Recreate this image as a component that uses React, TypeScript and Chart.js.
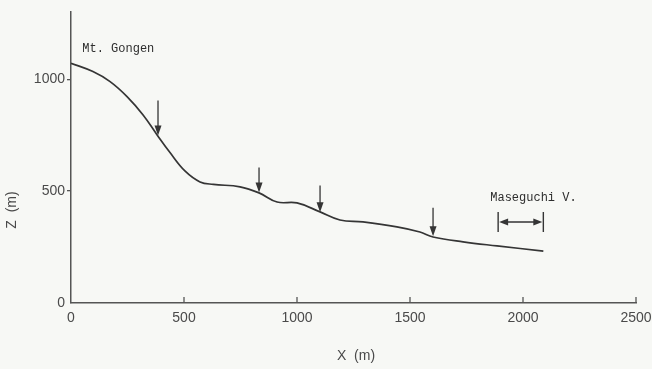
import React, { useEffect, useRef } from 'react';
import { Chart, registerables } from 'chart.js';

Chart.register(...registerables);

// Longitudinal profile (X in m, Z in m)
const profileX = [0, 97, 173, 248, 319, 381, 438, 504, 571, 630, 748, 832, 912, 1000, 1102, 1190, 1292, 1442, 1544, 1602, 1735, 1885, 2090];
const profileZ = [1071, 1034, 989, 922, 840, 751, 672, 590, 541, 530, 519, 492, 451, 447, 407, 371, 362, 340, 317, 295, 273, 255, 232];

// Arrows marking slope breaks (x position, top Z, tip Z)
const arrowX = [385, 832, 1102, 1602];
const arrowTop = [905, 605, 525, 425];
const arrowTip = [748, 494, 405, 298];

// Maseguchi valley range
const valleyRange = [1890, 2090];
const valleyZ = 362;

// Labels
const labelTexts = ['Mt. Gongen', 'Maseguchi V.'];
const labelX = [50, 1855];
const labelZ = [1135, 470];

const xTicks = [0, 500, 1000, 1500, 2000, 2500];
const yTicks = [0, 500, 1000];

const BG = '#f7f8f5';
const INK = '#353535';
const AXIS = '#555555';
const TXT = '#4a4a4a';
const TICK_FONT = { family: "'Liberation Sans', Arial, sans-serif", size: 14 };
const MONO = "12px 'Liberation Mono', 'DejaVu Sans Mono', monospace";

const annotPlugin = {
  id: 'annot',
  afterDatasetsDraw(chart: any) {
    const { ctx, scales } = chart;
    const xs = scales.x;
    const ys = scales.y;
    ctx.save();
    // inward x ticks
    ctx.strokeStyle = AXIS;
    ctx.lineWidth = 1.3;
    xTicks.forEach((v) => {
      if (v === 0) return;
      const px = xs.getPixelForValue(v);
      ctx.beginPath();
      ctx.moveTo(px, ys.bottom);
      ctx.lineTo(px, ys.bottom - 6);
      ctx.stroke();
    });

    // arrows
    ctx.strokeStyle = INK;
    ctx.fillStyle = INK;
    ctx.lineWidth = 1.3;
    arrowX.forEach((x, i) => {
      const px = xs.getPixelForValue(x);
      const top = ys.getPixelForValue(arrowTop[i]);
      const tip = ys.getPixelForValue(arrowTip[i]);
      ctx.beginPath();
      ctx.moveTo(px, top);
      ctx.lineTo(px, tip - 8);
      ctx.stroke();
      ctx.beginPath();
      ctx.moveTo(px, tip);
      ctx.lineTo(px - 3.5, tip - 10);
      ctx.lineTo(px + 3.5, tip - 10);
      ctx.closePath();
      ctx.fill();
    });

    // valley bracket
    const l = xs.getPixelForValue(valleyRange[0]);
    const r = xs.getPixelForValue(valleyRange[1]);
    const cy = ys.getPixelForValue(valleyZ);
    ctx.lineWidth = 1.4;
    ctx.beginPath();
    ctx.moveTo(l, cy - 10);
    ctx.lineTo(l, cy + 10);
    ctx.moveTo(r, cy - 10);
    ctx.lineTo(r, cy + 10);
    ctx.moveTo(l + 6, cy);
    ctx.lineTo(r - 6, cy);
    ctx.stroke();
    ctx.beginPath();
    ctx.moveTo(l + 1, cy);
    ctx.lineTo(l + 10, cy - 3.5);
    ctx.lineTo(l + 10, cy + 3.5);
    ctx.closePath();
    ctx.fill();
    ctx.beginPath();
    ctx.moveTo(r - 1, cy);
    ctx.lineTo(r - 10, cy - 3.5);
    ctx.lineTo(r - 10, cy + 3.5);
    ctx.closePath();
    ctx.fill();

    // text labels
    ctx.font = MONO;
    ctx.fillStyle = '#2e2e2e';
    ctx.textAlign = 'left';
    ctx.textBaseline = 'middle';
    labelTexts.forEach((t, i) => {
      ctx.fillText(t, xs.getPixelForValue(labelX[i]), ys.getPixelForValue(labelZ[i]));
    });

    // axis titles
    ctx.font = `${TICK_FONT.size}px ${TICK_FONT.family}`;
    ctx.fillStyle = TXT;
    ctx.textAlign = 'center';
    ctx.textBaseline = 'middle';
    ctx.fillText('X  (m)', 356, 356);
    ctx.translate(12, 210);
    ctx.rotate(-Math.PI / 2);
    ctx.fillText('Z  (m)', 0, 0);
    ctx.restore();
  },
};

export default function App() {
  const ref = useRef<HTMLCanvasElement>(null);
  useEffect(() => {
    document.body.style.margin = '0';
    const canvas = ref.current!;
    const chart = new Chart(canvas, {
      type: 'scatter',
      data: {
        datasets: [
          {
            data: profileX.map((x, i) => ({ x, y: profileZ[i] })),
            showLine: true,
            borderColor: INK,
            borderWidth: 1.7,
            pointRadius: 0,
            tension: 0.4,
            fill: false,
          } as any,
        ],
      },
      options: {
        responsive: false,
        animation: false,
        devicePixelRatio: 1,
        layout: { padding: { left: 0, right: 16, top: 12, bottom: 0 } },
        plugins: { legend: { display: false }, tooltip: { enabled: false } },
        scales: {
          x: {
            type: 'linear',
            min: 0,
            max: 2500,
            afterBuildTicks: (s: any) => {
              s.ticks = xTicks.map((v) => ({ value: v }));
            },
            afterFit: (s: any) => {
              s.height = 66;
              s.paddingLeft = 0;
              s.paddingRight = 0;
            },
            grid: { drawOnChartArea: false, drawTicks: false },
            border: { display: true, color: AXIS, width: 1.5 },
            ticks: { padding: 7, font: TICK_FONT, color: TXT, maxRotation: 0, callback: (v: any) => String(v) },
          },
          y: {
            type: 'linear',
            min: 0,
            max: 1300,
            afterBuildTicks: (s: any) => {
              s.ticks = yTicks.map((v) => ({ value: v }));
            },
            afterFit: (s: any) => {
              s.width = 71;
              s.paddingTop = 0;
              s.paddingBottom = 0;
            },
            grid: {
              drawOnChartArea: false,
              drawTicks: true,
              tickLength: 4,
              lineWidth: 1.3,
              color: (c: any) => (c.tick && c.tick.value === 0 ? 'rgba(0,0,0,0)' : AXIS),
            },
            border: { display: true, color: AXIS, width: 1.5 },
            ticks: { padding: 2, font: TICK_FONT, color: TXT, callback: (v: any) => String(v) },
          },
        },
      },
      plugins: [annotPlugin],
    });
    return () => chart.destroy();
  }, []);
  return (
    <canvas
      ref={ref}
      width={652}
      height={369}
      style={{ display: 'block', width: 652, height: 369, background: BG }}
    />
  );
}
